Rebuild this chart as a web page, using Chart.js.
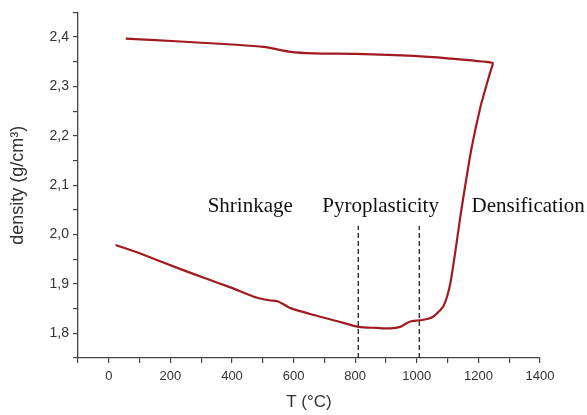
<!DOCTYPE html>
<html>
<head>
<meta charset="utf-8">
<script src="https://cdn.jsdelivr.net/npm/chart.js@4"></script>
<style>
html,body{margin:0;padding:0;background:#fff;}
#wrap{width:587px;height:415px;}
</style>
</head>
<body>
<div id="wrap"><canvas id="c" width="587" height="415"></canvas></div>
<script>
const tempC = [22, 100, 233, 320, 395, 482, 520, 547, 570, 590, 666, 740, 811, 870, 914, 946, 965, 979, 1000, 1017, 1040, 1054, 1070, 1087, 1100, 1110, 1125, 1141, 1160, 1178, 1206, 1225, 1238, 1246,
               1246, 1100, 990, 800, 666, 590, 503, 400, 287, 150, 55];
const density = [1.979, 1.962, 1.930, 1.910, 1.893, 1.872, 1.867, 1.865, 1.858, 1.851, 1.837, 1.825, 1.813, 1.811, 1.810, 1.813, 1.820, 1.824, 1.826, 1.827, 1.830, 1.834, 1.843, 1.856, 1.878, 1.905, 1.965, 2.035, 2.110, 2.176, 2.257, 2.300, 2.328, 2.344,
               2.348, 2.357, 2.362, 2.366, 2.367, 2.370, 2.380, 2.385, 2.389, 2.394, 2.397];
const phaseT = [810, 1008];
const phaseTop = 2.018;
const regionLabels = ['Shrinkage', 'Pyroplasticity', 'Densification'];
const regionT = [321, 693, 1178];
const regionRho = 2.046;
const xTicks = [0, 200, 400, 600, 800, 1000, 1200, 1400];
const yTicks = [1.8, 1.9, 2.0, 2.1, 2.2, 2.3, 2.4];

const curve = tempC.map((t, i) => ({x: t, y: density[i]}));
const dashSets = phaseT.map(t => ({
  data: [{x: t, y: 1.75}, {x: t, y: phaseTop}],
  showLine: true, borderColor: '#222', borderWidth: 1.3, borderDash: [5, 3],
  pointRadius: 0, tension: 0
}));

const textPlugin = {
  id: 'regionText',
  afterDatasetsDraw(chart) {
    const ctx = chart.ctx, xs = chart.scales.x, ys = chart.scales.y;
    ctx.save();
    ctx.font = '21px "Liberation Serif", "Times New Roman", serif';
    ctx.fillStyle = '#111';
    ctx.textBaseline = 'alphabetic';
    ctx.textAlign = 'left';
    regionLabels.forEach((s, i) => {
      ctx.fillText(s, xs.getPixelForValue(regionT[i]), ys.getPixelForValue(regionRho));
    });
    ctx.restore();
  }
};

new Chart(document.getElementById('c'), {
  type: 'scatter',
  data: {
    datasets: [{
      data: curve, showLine: true, borderColor: '#a01b1f', borderWidth: 2.2,
      pointRadius: 0, tension: 0.25
    }, ...dashSets]
  },
  options: {
    responsive: false, animation: false, devicePixelRatio: 1,
    layout: {padding: {top: 12, right: 47, left: 0, bottom: 0}},
    plugins: {legend: {display: false}, tooltip: {enabled: false}},
    scales: {
      x: {
        type: 'linear', min: -100, max: 1400,
        afterFit(s) { s.height = 57; },
        ticks: {
          stepSize: 100, autoSkip: false, maxRotation: 0, padding: 6,
          color: '#333', font: {family: 'Liberation Sans, Arial', size: 13},
          callback: v => xTicks.includes(v) ? String(v) : ''
        },
        grid: {drawOnChartArea: false, drawTicks: true, tickLength: 5, color: '#444', lineWidth: 1.2},
        border: {display: true, color: '#444', width: 1.3},
        title: {display: true, text: 'T (°C)', color: '#333', font: {family: 'Liberation Sans, Arial', size: 17}, padding: {top: 2, bottom: 2}}
      },
      y: {
        type: 'linear', min: 1.75, max: 2.45,
        afterFit(s) { s.width = 78; },
        ticks: {
          stepSize: 0.05, autoSkip: false, padding: 4,
          color: '#333', font: {family: 'Liberation Sans, Arial', size: 14},
          callback: v => {
            const m = yTicks.find(t => Math.abs(t - v) < 1e-6);
            return m === undefined ? '' : m.toFixed(1).replace('.', ',');
          }
        },
        grid: {drawOnChartArea: false, drawTicks: true, tickLength: 5, color: '#444', lineWidth: 1.2},
        border: {display: true, color: '#444', width: 1.3},
        title: {display: true, text: 'density (g/cm³)', color: '#333', font: {family: 'Liberation Sans, Arial', size: 18}, padding: {top: 7, bottom: 2}}
      }
    }
  },
  plugins: [textPlugin]
});
</script>
</body>
</html>
